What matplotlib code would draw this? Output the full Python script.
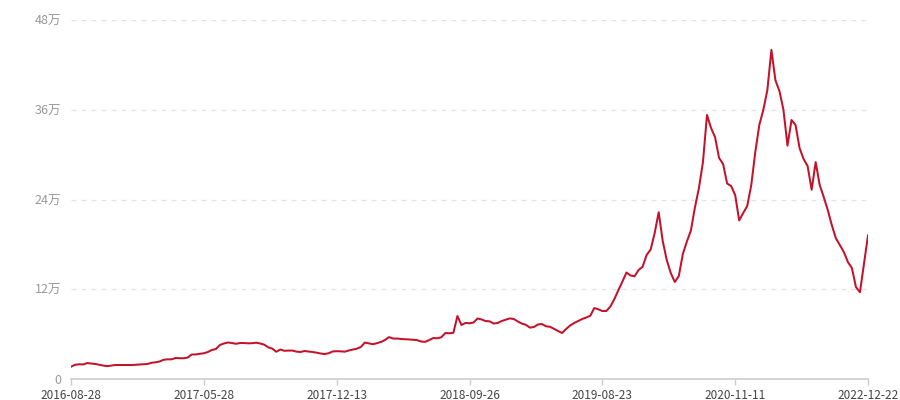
import numpy as np
import matplotlib
matplotlib.use("Agg")
import matplotlib.pyplot as plt
from matplotlib.ticker import FuncFormatter

plt.rcParams['font.family'] = ['Noto Sans CJK SC', 'DejaVu Sans']

# 数据（单位：万），按类目顺序
values = [
    1.64, 1.90, 1.97, 1.94, 2.13, 2.07, 2.01, 1.90, 1.80, 1.72,
    1.80, 1.87, 1.87, 1.87, 1.87, 1.87, 1.90, 1.94, 1.97, 2.01,
    2.17, 2.23, 2.34, 2.57, 2.63, 2.63, 2.81, 2.78, 2.77, 2.87,
    3.28, 3.28, 3.37, 3.44, 3.61, 3.88, 4.01, 4.55, 4.75, 4.88,
    4.81, 4.71, 4.81, 4.81, 4.77, 4.79, 4.85, 4.75, 4.59, 4.24,
    4.06, 3.64, 3.94, 3.77, 3.80, 3.80, 3.66, 3.61, 3.74, 3.68,
    3.61, 3.52, 3.41, 3.34, 3.44, 3.68, 3.72, 3.70, 3.65, 3.81,
    3.94, 4.05, 4.28, 4.87, 4.76, 4.65, 4.79, 4.95, 5.21, 5.60,
    5.41, 5.41, 5.35, 5.32, 5.29, 5.25, 5.19, 5.01, 4.97, 5.21,
    5.48, 5.44, 5.58, 6.15, 6.11, 6.18, 8.42, 7.22, 7.49, 7.45,
    7.55, 8.09, 7.96, 7.75, 7.71, 7.42, 7.49, 7.75, 7.92, 8.10,
    8.02, 7.69, 7.41, 7.25, 6.87, 6.95, 7.29, 7.35, 7.05, 6.98,
    6.71, 6.42, 6.15, 6.69, 7.15, 7.49, 7.75, 8.02, 8.22, 8.45,
    9.49, 9.32, 9.09, 9.09, 9.69, 10.70, 11.90, 13.04, 14.24, 13.84,
    13.73, 14.57, 15.00, 16.58, 17.31, 19.50, 22.30, 18.45, 15.91, 14.17,
    12.97, 13.77, 16.71, 18.38, 19.85, 22.93, 25.54, 29.01, 35.30, 33.56,
    32.35, 29.55, 28.75, 26.14, 25.80, 24.60, 21.20, 22.20, 23.13, 25.94,
    30.35, 33.96, 36.00, 38.64, 44.00, 39.95, 38.50, 35.97, 31.20, 34.63,
    33.96, 30.88, 29.41, 28.48, 25.30, 29.00, 25.94, 24.33, 22.60, 20.59,
    18.85, 17.92, 16.98, 15.64, 14.84, 12.30, 11.60, 15.38, 19.20,
]
tick_labels = ['2016-08-28', '2017-05-28', '2017-12-13', '2018-09-26',
               '2019-08-23', '2020-11-11', '2022-12-22']
y_ticks = [0, 12, 24, 36, 48]

x = np.arange(len(values))
tick_pos = np.linspace(0, len(values) - 1, len(tick_labels))

fig = plt.figure(figsize=(9, 4), dpi=100)
ax = fig.add_axes([71 / 900, 21 / 400, 797 / 900, 359 / 400])

ax.plot(x, values, color='#c4122b', linewidth=1.45, solid_joinstyle='round')

ax.set_xlim(0, len(values) - 1)
ax.set_ylim(0, 48)
ax.set_yticks(y_ticks)
ax.yaxis.set_major_formatter(FuncFormatter(lambda v, p: '0' if v == 0 else f'{int(v)}万'))
ax.set_xticks(tick_pos)
ax.set_xticklabels(tick_labels)

# 网格线
for yv in y_ticks[1:]:
    ax.axhline(yv, color='#e3e3e3', linewidth=0.9, linestyle=(0, (4, 4)), zorder=0)

for s in ['top', 'right', 'left']:
    ax.spines[s].set_visible(False)
ax.spines['bottom'].set_color('#cccccc')
ax.spines['bottom'].set_linewidth(1.2)

ax.tick_params(axis='y', length=0, pad=7, labelsize=9, labelcolor='#999999')
ax.tick_params(axis='x', length=4, width=1, color='#cccccc', pad=3,
               labelsize=8.5, labelcolor='#444444')

fig.savefig('out.png', dpi=100)
